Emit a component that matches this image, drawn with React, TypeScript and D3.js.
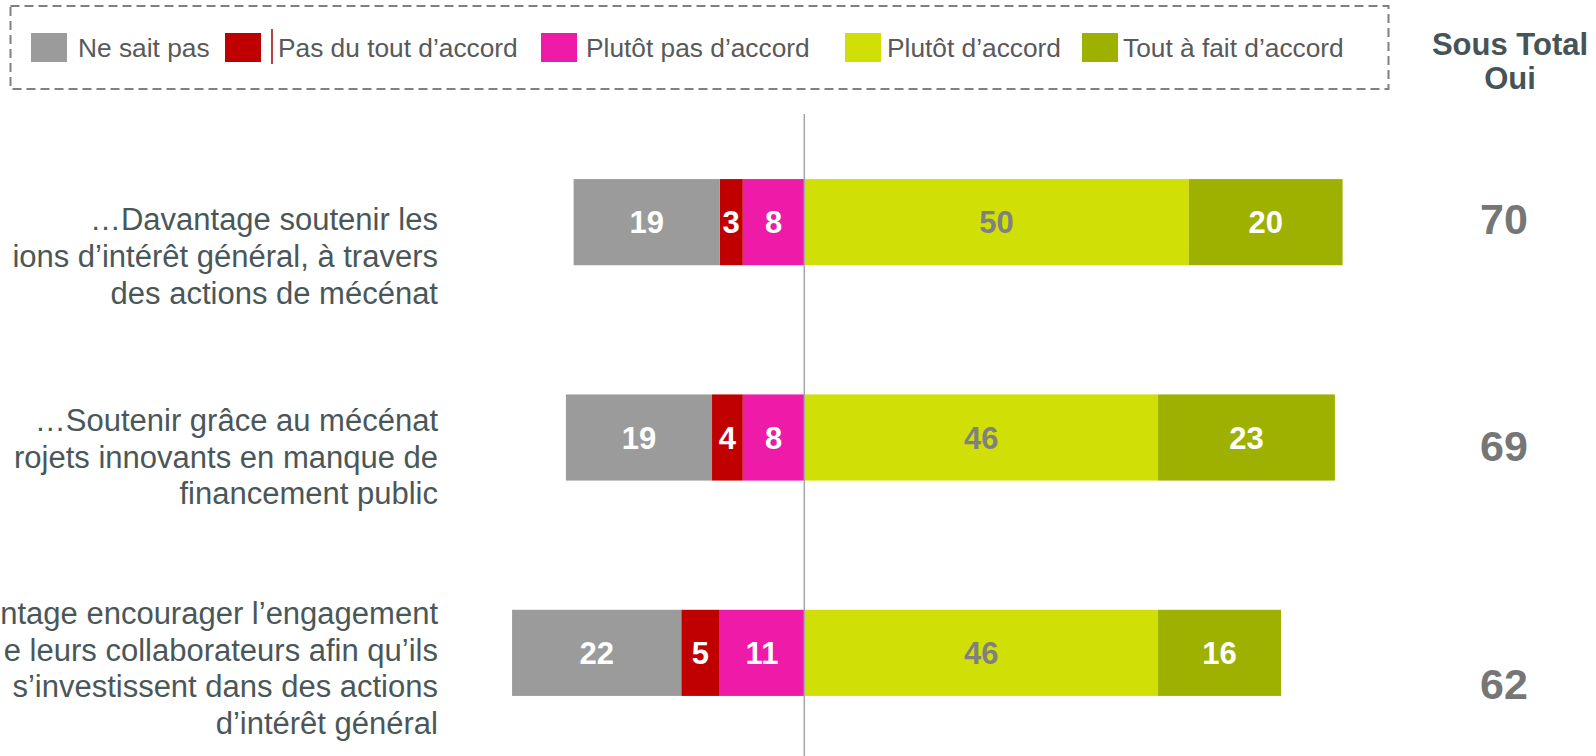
import * as d3 from 'd3';

// --- data ---
const rowIds = ['q1', 'q2', 'q3'];
const rowLabels = [
  ['…Davantage soutenir les', 'ions d’intérêt général, à travers', 'des actions de mécénat'],
  ['…Soutenir grâce au mécénat', 'rojets innovants en manque de', 'financement public'],
  ['ntage encourager l’engagement', 'e leurs collaborateurs afin qu’ils', 's’investissent dans des actions', 'd’intérêt général'],
];
const neSaitPas = [19, 19, 22];
const pasDuTout = [3, 4, 5];
const plutotPas = [8, 8, 11];
const plutotDaccord = [50, 46, 46];
const toutAFait = [20, 23, 16];
const sousTotal = [70, 69, 62];

const seriesKeys = ['plutotPas', 'pasDuTout', 'neSaitPas', 'plutotDaccord', 'toutAFait'];
const legendKeys = ['neSaitPas', 'pasDuTout', 'plutotPas', 'plutotDaccord', 'toutAFait'];
const legendLabels = ['Ne sait pas', 'Pas du tout d’accord', 'Plutôt pas d’accord', 'Plutôt d’accord', 'Tout à fait d’accord'];

// --- styles / layout ---
const colors: Record<string, string> = {
  neSaitPas: '#9b9b9b',
  pasDuTout: '#c00000',
  plutotPas: '#ee1aa8',
  plutotDaccord: '#d0e006',
  toutAFait: '#9fb100',
};
const labelColors: Record<string, string> = {
  neSaitPas: '#ffffff',
  pasDuTout: '#ffffff',
  plutotPas: '#ffffff',
  plutotDaccord: '#808080',
  toutAFait: '#ffffff',
};
const legendSquareX = [31, 225, 541, 845, 1082];
const legendTextX = [78, 278, 586, 887, 1123];
const labelShift = [34, 19, 15]; // label block centre vs bar centre
const totalShift = [-4, 8, 31];

const W = 1596;
const H = 756;
const FONT = '"Liberation Sans", Arial, sans-serif';

export default function App() {
  const table = rowIds.map((id, i) => ({
    id,
    neSaitPas: -neSaitPas[i],
    pasDuTout: -pasDuTout[i],
    plutotPas: -plutotPas[i],
    plutotDaccord: plutotDaccord[i],
    toutAFait: toutAFait[i],
  }));
  const raw: Record<string, number[]> = { neSaitPas, pasDuTout, plutotPas, plutotDaccord, toutAFait };

  const stacked = d3.stack<any>().keys(seriesKeys).offset(d3.stackOffsetDiverging)(table);

  const x = d3.scaleLinear().domain([-40, 70]).range([496.7, 1342.6]);
  const y = d3.scaleBand<string>().domain(rowIds).range([136, 739]).paddingInner(0.6).paddingOuter(0.2);
  const bw = y.bandwidth();
  const lineH = 36.7;

  return (
    <svg width={W} height={H} style={{ position: 'absolute', left: 0, top: 0, display: 'block', background: '#fff' }} fontFamily={FONT}>
      {/* legend */}
      <rect x={10.5} y={6} width={1378} height={83} fill="none" stroke="#808080" strokeWidth={2} strokeDasharray="9 5" />
      {legendKeys.map((k, i) => (
        <g key={k}>
          <rect x={legendSquareX[i]} y={33} width={36} height={29} fill={colors[k]} />
          <text x={legendTextX[i]} y={56.5} fontSize={26.3} fill="#595959">{legendLabels[i]}</text>
        </g>
      ))}
      <line x1={272} x2={272} y1={29} y2={64} stroke="#a00000" strokeWidth={1.5} />

      {/* header */}
      <text x={1510} y={55} textAnchor="middle" fontSize={31} fontWeight="bold" fill="#465457">Sous Total</text>
      <text x={1510} y={89} textAnchor="middle" fontSize={31} fontWeight="bold" fill="#465457">Oui</text>

      {/* bars */}
      {stacked.map((s) => (
        <g key={s.key}>
          {s.map((d, i) => {
            const x0 = x(Math.min(d[0], d[1]));
            const x1 = x(Math.max(d[0], d[1]));
            const yy = y(rowIds[i]) as number;
            return (
              <g key={rowIds[i]}>
                <rect x={x0} y={yy} width={x1 - x0} height={bw} fill={colors[s.key]} />
                <text
                  x={(x0 + x1) / 2}
                  y={yy + bw / 2 + 11}
                  textAnchor="middle"
                  fontSize={31}
                  fontWeight="bold"
                  fill={labelColors[s.key]}
                >
                  {raw[s.key][i]}
                </text>
              </g>
            );
          })}
        </g>
      ))}

      {/* centre line */}
      <line x1={x(0)} x2={x(0)} y1={114} y2={H} stroke="#a6a6a6" strokeWidth={1.5} />

      {/* row labels */}
      {rowIds.map((id, i) => {
        const lines = rowLabels[i];
        const c = (y(id) as number) + bw / 2 + labelShift[i];
        const firstBase = c - ((lines.length - 1) * lineH) / 2 + 11;
        return (
          <text key={id} textAnchor="end" fontSize={31} fill="#4a5759">
            {lines.map((l, j) => (
              <tspan key={j} x={438} y={firstBase + j * lineH}>{l}</tspan>
            ))}
          </text>
        );
      })}

      {/* sous total */}
      {rowIds.map((id, i) => (
        <text
          key={id}
          x={1504}
          y={(y(id) as number) + bw / 2 + totalShift[i] + 15.5}
          textAnchor="middle"
          fontSize={43}
          fontWeight="bold"
          fill="#767676"
        >
          {sousTotal[i]}
        </text>
      ))}
    </svg>
  );
}
